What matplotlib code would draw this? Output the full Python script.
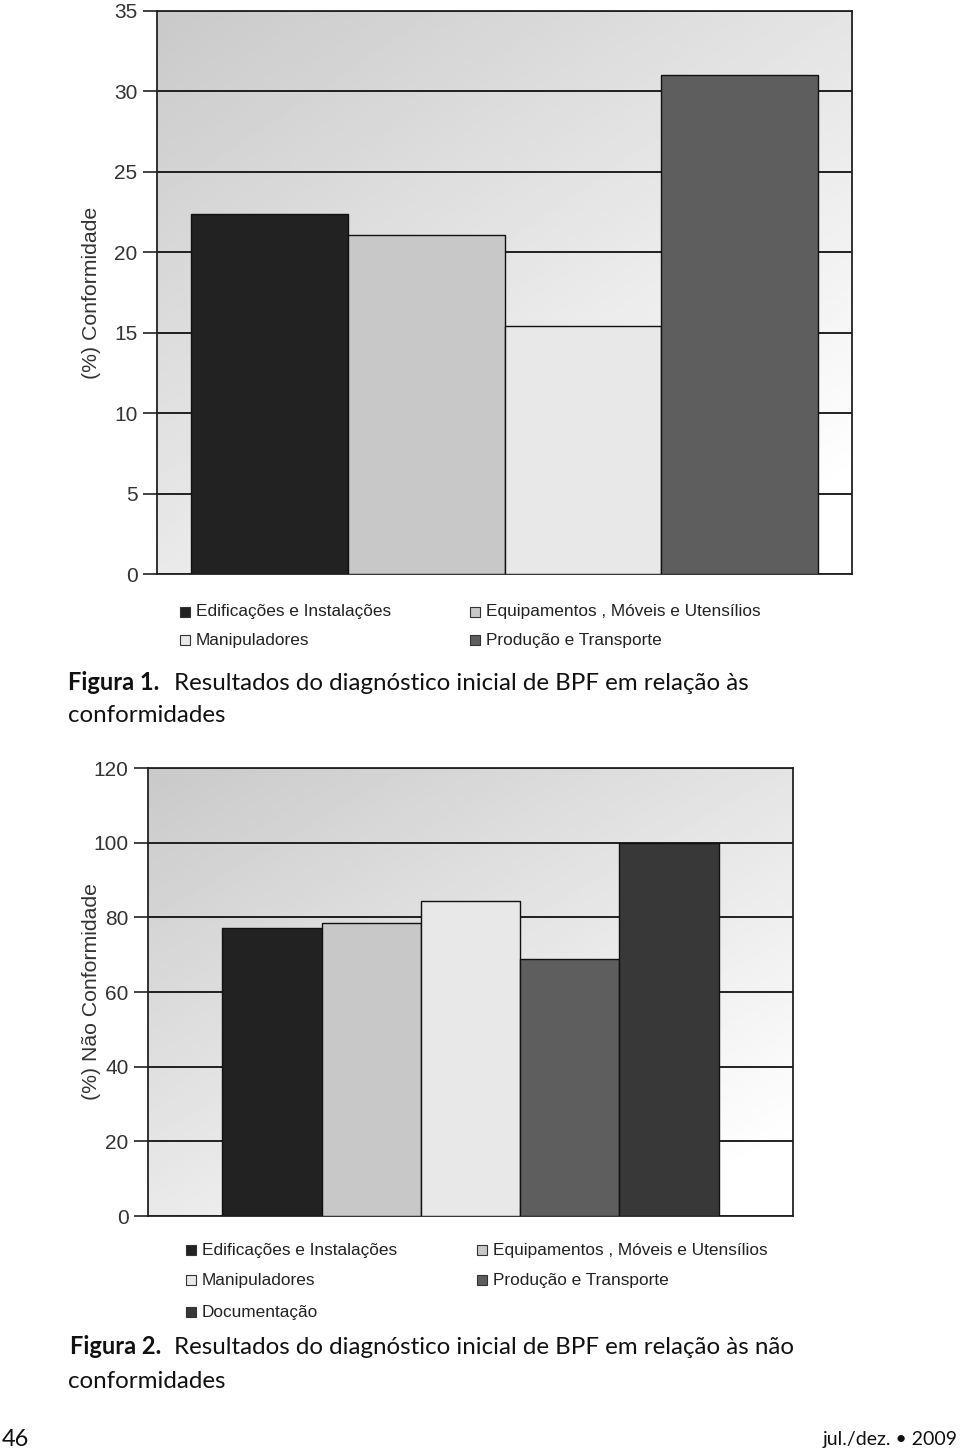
import numpy as np
import matplotlib.pyplot as plt
from matplotlib.patches import Rectangle

# data
cats1 = ['Edificações e Instalações', 'Equipamentos , Móveis e Utensílios',
         'Manipuladores', 'Produção e Transporte']
vals1 = [22.4, 21.1, 15.4, 31.0]
cols1 = ['#222222', '#c8c8c8', '#e8e8e8', '#5e5e5e']

cats2 = ['Edificações e Instalações', 'Equipamentos , Móveis e Utensílios',
         'Manipuladores', 'Produção e Transporte', 'Documentação']
vals2 = [77.2, 78.5, 84.5, 68.8, 100.0]
cols2 = ['#222222', '#c8c8c8', '#e8e8e8', '#5e5e5e', '#383838']

yticks1 = [0, 5, 10, 15, 20, 25, 30, 35]
yticks2 = [0, 20, 40, 60, 80, 100, 120]

W, H = 960, 1452
fig = plt.figure(figsize=(W / 100, H / 100), dpi=100)
plt.rcParams['font.family'] = ['Liberation Sans', 'DejaVu Sans']


def px_axes(left, top, right, bottom):
    return fig.add_axes([left / W, 1 - bottom / H, (right - left) / W, (bottom - top) / H])


def gradient(ax):
    xx, yy = np.meshgrid(np.linspace(0, 1, 200), np.linspace(0, 1, 200))
    g = 0.79 + 0.21 * np.clip(0.5 * xx + 0.6 * yy, 0, 1)
    ax.imshow(g, cmap='gray', vmin=0, vmax=1, extent=[0, 1, 0, 1], origin='upper',
              transform=ax.transAxes, aspect='auto', zorder=0, interpolation='bilinear')


def chart(ax, vals, cols, yticks, ylabel, xlim, labx):
    gradient(ax)
    x = np.arange(len(vals))
    ax.bar(x, vals, width=1.0, color=cols, edgecolor='#111111', linewidth=1.0, zorder=3)
    ax.set_xlim(*xlim)
    ax.set_ylim(yticks[0], yticks[-1])
    ax.set_yticks(yticks)
    ax.set_xticks([])
    ax.yaxis.grid(True, color='#111111', linewidth=1.3, zorder=1)
    ax.set_axisbelow(True)
    ax.tick_params(axis='y', length=10, width=1.2, color='#222222', labelsize=15,
                   labelcolor='#333333', pad=4)
    for s in ax.spines.values():
        s.set_color('#222222')
        s.set_linewidth(1.3)
    ax.set_ylabel(ylabel, fontsize=15.3, color='#333333')
    ax.yaxis.set_label_coords(labx, 0.5)


ax1 = px_axes(157, 11, 852, 574)
chart(ax1, vals1, cols1, yticks1, '(%) Conformidade', (-0.72, 3.72), -0.081)

ax2 = px_axes(148, 768, 793, 1216)
chart(ax2, vals2, cols2, yticks2, '(%) Não Conformidade', (-1.25, 5.25), -0.073)


def legend(items, colors, spots):
    for lab, c, (xs, ys) in zip(items, colors, spots):
        fig.patches.append(Rectangle(((xs - 5) / W, 1 - (ys + 5) / H), 10 / W, 10 / H,
                                     transform=fig.transFigure, facecolor=c,
                                     edgecolor='#333333', linewidth=0.8))
        fig.text((xs + 11) / W, 1 - ys / H, lab, fontsize=12.4, color='#222222',
                 va='center', ha='left')


legend(cats1, cols1, [(185, 612), (475, 612), (185, 640), (475, 640)])
legend(cats2, cols2, [(191, 1250), (482, 1250), (191, 1280), (482, 1280), (191, 1312)])

cap_font = ['Lato', 'DejaVu Sans']
fig.text(68 / W, 1 - 683 / H, 'Figura 1.', fontsize=17, fontweight='bold', color='#111111',
         va='center', family=cap_font)
fig.text(174 / W, 1 - 683 / H, 'Resultados do diagnóstico inicial de BPF em relação às',
         fontsize=17.4, color='#111111', va='center', family=cap_font)
fig.text(68 / W, 1 - 715 / H, 'conformidades', fontsize=17.4, color='#111111', va='center',
         family=cap_font)

fig.text(70 / W, 1 - 1347 / H, 'Figura 2.', fontsize=17, fontweight='bold', color='#111111',
         va='center', family=cap_font)
fig.text(174 / W, 1 - 1347 / H, 'Resultados do diagnóstico inicial de BPF em relação às não',
         fontsize=17.4, color='#111111', va='center', family=cap_font)
fig.text(68 / W, 1 - 1381 / H, 'conformidades', fontsize=17.4, color='#111111', va='center',
         family=cap_font)

fig.text(2 / W, 1 - 1440 / H, '46', fontsize=17, color='#111111', va='center', family=cap_font)
fig.text(958 / W, 1 - 1440 / H, 'jul./dez. • 2009', fontsize=14, color='#111111', va='center',
         ha='right', family=cap_font)

fig.savefig('out.png', dpi=100)
